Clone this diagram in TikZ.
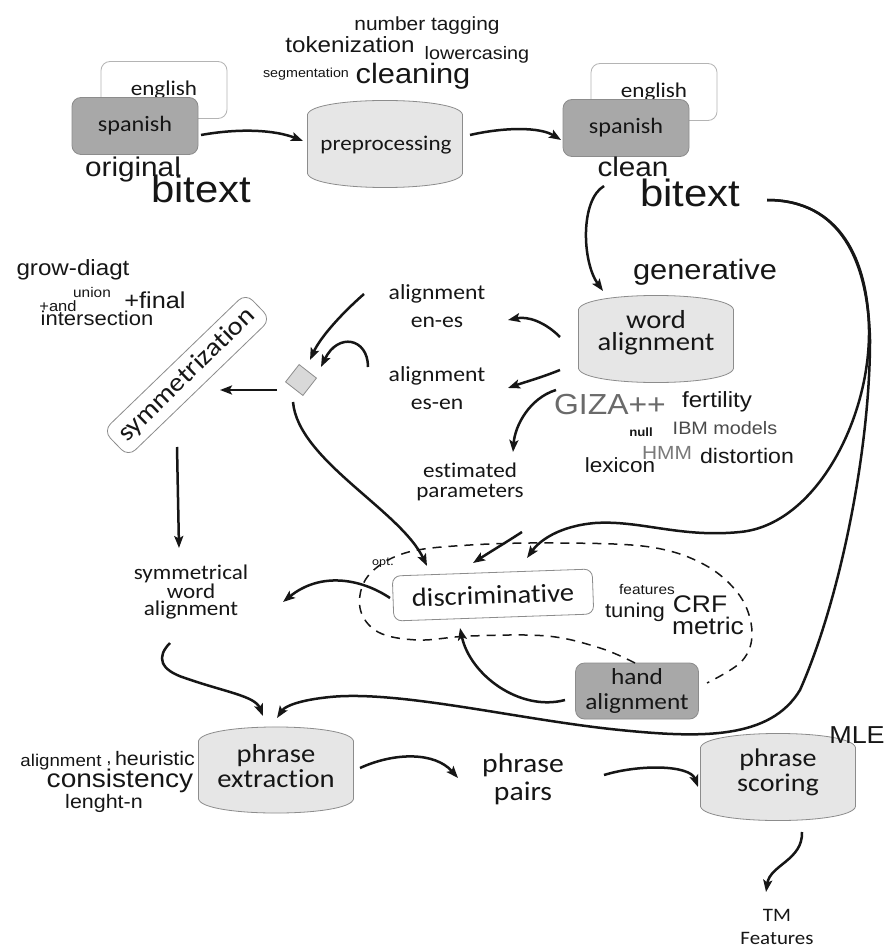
\documentclass[tikz,border=0pt]{standalone}
\usepackage{fontspec}
\setmainfont{Carlito}[FakeStretch=1.1, Ligatures=NoCommon]
\newfontfamily\arialfont{Liberation Sans}[FakeStretch=1.1]
\usetikzlibrary{arrows.meta}

\definecolor{ink}{HTML}{161616}
\definecolor{boxgray}{HTML}{A8A8A8}
\definecolor{barrelfill}{HTML}{E6E6E6}
\definecolor{edgegray}{HTML}{8C8C8C}
\definecolor{lightedge}{HTML}{B4B4B4}
\definecolor{gizagray}{HTML}{6A6A6A}
\definecolor{hmmgray}{HTML}{7A7A7A}
\definecolor{ibmgray}{HTML}{4A4A4A}

\tikzset{
  conn/.style={line width=2.5pt, draw=ink, -{Stealth[length=12pt,width=9pt,inset=2.5pt]}},
  cal/.style 2 args={inner sep=0pt, align=center, text=ink, font=\fontsize{#1}{#2}\selectfont},
  ar/.style={inner sep=0pt, text=ink, font=\arialfont\fontsize{#1}{#1}\selectfont},
  card/.style={line width=0.8pt, rounded corners=9pt, minimum width=126pt, minimum height=57pt},
  whitecard/.style={card, fill=white, draw=lightedge},
  graycard/.style={card, fill=boxgray, draw=edgegray},
  barrelpath/.style={fill=barrelfill, draw=edgegray, line width=0.8pt},
  region/.style={draw=ink, line width=1.5pt, dash pattern=on 9pt off 7pt},
}

% barrel outline: centre, half width, half height
\newcommand\drawbarrel[3]{%
  \path[barrelpath, shift={(#1)}]
    (-#2,{-#3+14}) -- (-#2,{#3-14})
    .. controls ({-#2+4},{#3+4.7}) and ({#2-4},{#3+4.7}) .. (#2,{#3-14})
    -- (#2,{-#3+14})
    .. controls ({#2-4},{-#3-4.7}) and ({-#2+4},{-#3-4.7}) .. cycle;}

\begin{document}
\begin{tikzpicture}[x=1pt,y=-1pt]
\useasboundingbox[fill=white] (0,0) rectangle (886,949);

% process barrels
\drawbarrel{385,144}{77.5}{43.5}
\drawbarrel{656,339}{77.5}{43.5}
\drawbarrel{276,770}{77.5}{43}
\drawbarrel{778,777}{77.5}{43.5}

% original bitext
\node[whitecard, cal={21}{21}] (engL) at (164,90) {english};
\node[graycard, cal={22}{22}] (spanL) at (135,126) {spanish};
\node[ar=27] (orig) at (133,170) {original};
\node[ar=38] (bitL) at (201,189) {bitext};

% preprocessing
\node[cal={21}{21}] (pre) at (386,145) {preprocessing};
\node[ar=19] (numtag) at (427,26) {number tagging};
\node[ar=22] (tok) at (350,45) {tokenization};
\node[ar=18] (lower) at (477,55) {lowercasing};
\node[ar=13] (segm) at (306,74) {segmentation};
\node[ar=28] (cleaning) at (413,76) {cleaning};

% clean bitext
\node[whitecard, cal={21}{21}] (engR) at (654,92) {english};
\node[graycard, cal={22}{22}] (spanR) at (626,128) {spanish};
\node[ar=27] (clean) at (633,167) {clean};
\node[ar=38] (bitR) at (690,193) {bitext};

% generative word alignment
\node[ar=28] (gen) at (705,272) {generative};
\node[cal={26}{22}] (word) at (656,333) {word\\alignment};
\node[ar=29, text=gizagray] (giza) at (610,405) {GIZA++};
\node[ar=22] (fert) at (717,402) {fertility};
\node[ar=12, font=\arialfont\bfseries\fontsize{12}{12}\selectfont] (null) at (641,432) {null};
\node[ar=18, text=ibmgray] (ibm) at (725,428) {IBM models};
\node[ar=19, text=hmmgray] (hmm) at (667,453) {HMM};
\node[ar=21] (dist) at (747,456) {distortion};
\node[ar=20.5] (lex) at (620,465) {lexicon};

\node[cal={21.5}{28}] (aenes) at (437,306) {alignment\\en-es};
\node[cal={21.5}{28}] (aesen) at (437,388) {alignment\\es-en};
\node[cal={21}{20}] (est) at (470,482) {estimated\\parameters};

% symmetrization
\node[draw=edgegray, fill=gray!30, line width=0.8pt, minimum size=22pt, inner sep=0pt, rotate=52] (sq) at (301,380) {};
\node[draw=edgegray, fill=white, line width=0.8pt, rounded corners=10pt, rotate=44,
      minimum width=198pt, minimum height=36pt, cal={26}{26}] (sym) at (187,375) {symmetrization};
\node[ar=22] (grow) at (73,270) {grow-diagt};
\node[ar=14] (union) at (92,292) {union};
\node[ar=23] (final) at (155,300) {+final};
\node[ar=15] (and) at (58,306) {+and};
\node[ar=20] (inter) at (97,318) {intersection};
\node[cal={21}{17}] (swa) at (191,592) {symmetrical\\word\\alignment};

% discriminative alignment
\node[draw=edgegray, fill=white, line width=0.8pt, rounded corners=8pt, rotate=2,
      minimum width=200pt, minimum height=45pt, cal={26}{26}] (disc) at (493,595) {discriminative};
\node[cal={12}{12}] (opt) at (383,563) {opt.};
\node[ar=14] (feat) at (647,589) {features};
\node[ar=20] (tuning) at (635,612) {tuning};
\node[ar=24] (crf) at (700,604) {CRF};
\node[ar=24] (metric) at (708,626) {metric};
\node[graycard, minimum width=123pt, minimum height=56pt, cal={23}{25}] (hand) at (637,691) {hand\\alignment};

% optional discriminative stage
\draw[region] plot[smooth, tension=0.6] coordinates {
  ([shift={(-2,-28)}]hand.center) (600,648) (547,636) (470,636) (418,640)
  (378,632) (360,608) (368,576) (405,553) (470,545) (560,543) (650,547)
  (705,565) (740,596) (752,632) (742,661) ([shift={(70,-8)}]hand.center)};

% phrase extraction and scoring
\node[cal={26}{25}] (phx) at (276,766) {phrase\\extraction};
\node[ar=17] (alig) at (61,762) {alignment};
\node[ar=17] (comma) at (109,764) {,};
\node[ar=19.5] (heur) at (155,759) {heuristic};
\node[ar=25.5] (cons) at (120,781) {consistency};
\node[ar=19.5] (lenn) at (104,803) {lenght-n};
\node[cal={27}{28}] (pp) at (523,779) {phrase\\pairs};
\node[cal={25.5}{25}] (phs) at (778,772) {phrase\\scoring};
\node[ar=24.5] (mle) at (857,735) {MLE};
\node[cal={19}{23}] (tm) at (777,927) {TM\\Features};

% connectors
\draw[conn] ([shift={(66,9)}]spanL.center) .. controls (240,128) and (275,130) .. ([shift={(-83,-4)}]pre.center);
\draw[conn] ([shift={(84,-10)}]pre.center) .. controls (505,127) and (540,127) .. ([shift={(-65,12)}]spanR.center);
\draw[conn] ([shift={(-86,-7)}]bitR.center) .. controls (580,200) and (582,262) .. ([shift={(-53,-42)}]word.center);
\draw[conn] ([shift={(77,7)}]bitR.center) .. controls (840,200) and (868,260) .. (869,330)
  .. controls (870,420) and (815,525) .. (740,532) .. controls (680,538) and (640,520) .. (595,523)
  .. controls (560,526) and (540,540) .. ([shift={(34,-37)}]disc.center);
\draw[conn] ([shift={(77,7)}]bitR.center) .. controls (840,200) and (868,260) .. (870,340)
  .. controls (870,450) and (840,600) .. (800,690) .. controls (770,740) and (700,738) .. (620,730)
  .. controls (520,720) and (400,690) .. (330,697) .. controls (300,700) and (285,706) .. ([shift={(1,-48)}]phx.center);
\draw[conn] ([shift={(-96,4)}]word.center) .. controls (545,322) and (528,316) .. ([shift={(71,14)}]aenes.center);
\draw[conn] ([shift={(-96,37)}]word.center) .. controls (540,378) and (525,382) .. ([shift={(71,0)}]aesen.center);
\draw[conn] ([shift={(-100,57)}]word.center) .. controls (530,398) and (515,425) .. ([shift={(43,-30)}]est.center);
\draw[conn] ([shift={(-73,-12)}]aenes.center) .. controls (340,315) and (320,338) .. ([shift={(9,-20)}]sq.center);
\draw[conn] ([shift={(-69,-21)}]aesen.center) .. controls (368,338) and (338,332) .. ([shift={(20,-13)}]sq.center);
\draw[conn] ([shift={(-24,10)}]sq.center) -- ([shift={(33,15)}]sym.center);
\draw[conn] ([shift={(-8,22)}]sq.center) .. controls (298,460) and (400,510) .. ([shift={(-66,-29)}]disc.center);
\draw[conn] ([shift={(-10,72)}]sym.center) -- ([shift={(-12,-44)}]swa.center);
\draw[conn] ([shift={(52,50)}]est.center) .. controls (505,543) and (490,552) .. ([shift={(-20,-32)}]disc.center);
\draw[conn] ([shift={(-103,3)}]disc.center) .. controls (360,578) and (320,572) .. ([shift={(92,10)}]swa.center);
\draw[conn] ([shift={(-72,9)}]hand.center) .. controls (520,712) and (470,675) .. ([shift={(-33,33)}]disc.center);
\draw[conn] ([shift={(-21,51)}]swa.center) .. controls (156,657) and (160,670) .. (185,678)
  .. controls (225,692) and (255,696) .. ([shift={(-13,-50)}]phx.center);
\draw[conn] ([shift={(84,2)}]phx.center) .. controls (395,752) and (435,752) .. ([shift={(-65,-1)}]pp.center);
\draw[conn] ([shift={(81,-4)}]pp.center) .. controls (640,764) and (690,765) .. ([shift={(-80,15)}]phs.center);
\draw[conn] ([shift={(24,60)}]phs.center) .. controls (803,860) and (770,865) .. ([shift={(-11,-35)}]tm.center);
\end{tikzpicture}
\end{document}
